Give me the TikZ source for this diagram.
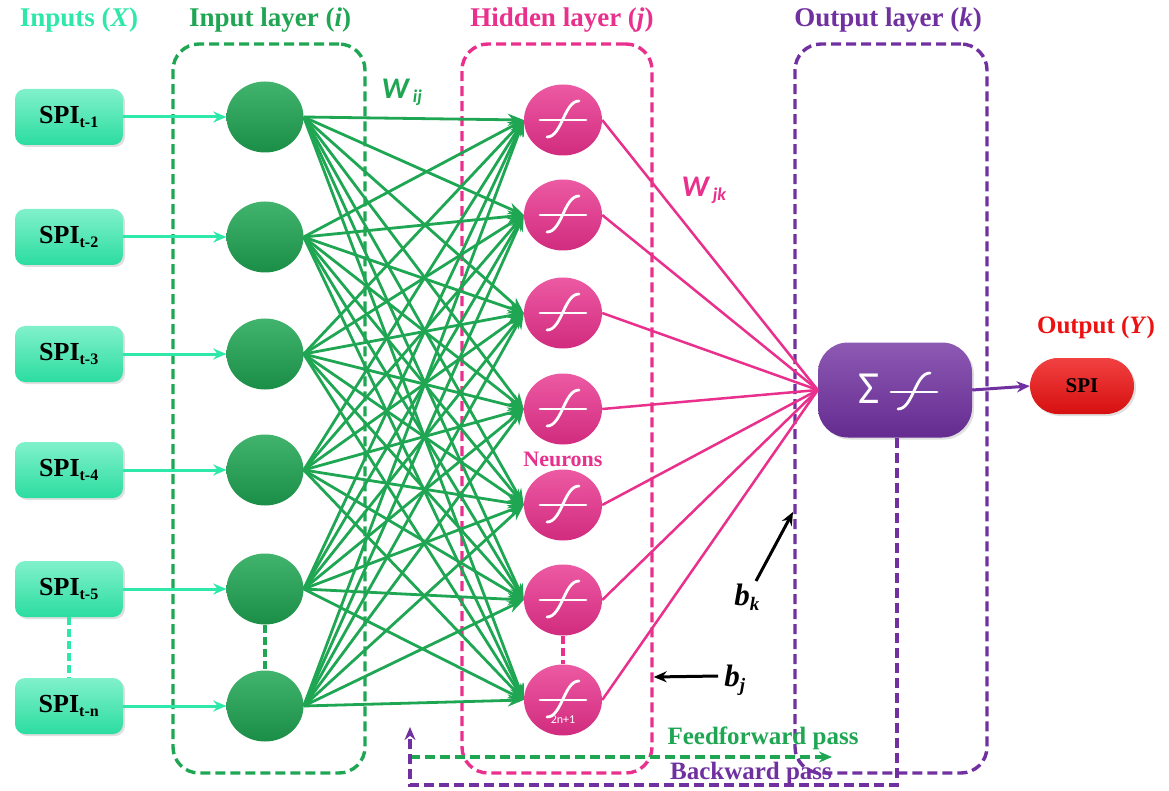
\documentclass[tikz,border=0pt]{standalone}
\usepackage{fontspec}
\setmainfont{Liberation Serif}
\newfontfamily\calib{Carlito}
\usetikzlibrary{arrows.meta,shadows,shapes.geometric}

\definecolor{inGreen}{HTML}{2DE8A8}
\definecolor{layGreen}{HTML}{1FA653}
\definecolor{hidPink}{HTML}{E8308C}
\definecolor{outPurple}{HTML}{7030A0}
\definecolor{outRed}{HTML}{EE1111}

\tikzset{
  title/.style={font=\fontsize{27}{30}\selectfont\bfseries, inner sep=0},
  spibox/.style={rounded corners=10, minimum width=108, minimum height=56, inner sep=0,
    top color=inGreen!60!white, bottom color=inGreen!95!black,
    drop shadow={opacity=0.25, shadow xshift=2pt, shadow yshift=-2pt},
    font=\fontsize{26}{28}\selectfont\bfseries},
  inneuron/.style={ellipse, minimum width=77, minimum height=71, inner sep=0,
    top color=layGreen!85!white, bottom color=layGreen!85!black},
  hidneuron/.style={ellipse, minimum width=78, minimum height=71, inner sep=0,
    top color=hidPink!80!white, bottom color=hidPink!90!black},
  frame/.style={rounded corners=26, line width=3.4, dash pattern=on 10pt off 5pt},
  inarrow/.style={draw=inGreen, line width=3, -{Stealth[length=13pt,width=11pt]}},
  wline/.style={draw=layGreen, line width=2.8, -{Stealth[length=16pt,width=12pt]}},
  pline/.style={draw=hidPink, line width=2.5},
  vdots/.style={line width=3.6, dash pattern=on 8pt off 4pt},
  sig/.pic={
    \draw[white, line width=2.8, line cap=round] (-23,0) -- (23,0);
    \draw[white, line width=2.8, line cap=round] (-16,17) .. controls (-1,17) and (1,-19) .. (16,-19);
  },
  lab/.style={inner sep=0},
  pass/.style={line width=3.4, dash pattern=on 10pt off 5pt, -{Stealth[length=13pt,width=11pt]}},
}

\begin{document}
\begin{tikzpicture}[x=1pt, y=-1pt]
\useasboundingbox[fill=white] (0,0) rectangle (1169,791);

% layer frames
\node[frame, draw=layGreen, minimum width=192, minimum height=729] (inframe) at (269,408.5) {};
\node[frame, draw=hidPink, minimum width=190, minimum height=729] (hidframe) at (557,408.5) {};
\node[frame, draw=outPurple, minimum width=192, minimum height=729] (outframe) at (891,408.5) {};

% titles
\node[title, text=inGreen] (tin) at (79,20) {Inputs (\textit{X})};
\node[title, text=layGreen] (tinl) at (270,20) {Input layer (\textit{i})};
\node[title, text=hidPink] (thid) at (562,20) {Hidden layer (\textit{j})};
\node[title, text=outPurple] (tout) at (888,20) {Output layer (\textit{k})};
\node[title, text=outRed, font=\fontsize{25}{27}\selectfont\bfseries] (ty) at (1096,327) {Output (\textit{Y})};

% inputs and input neurons
\foreach \i/\y/\s in {1/117/1, 2/237/2, 3/354/3, 4/470/4, 5/589/5, 6/706/n} {
  \node[spibox] (spi\i) at (69,\y) {SPI\textsubscript{\fontsize{16}{17}\selectfont t-\s}};
  \node[inneuron] (in\i) at (265,\y) {};
  \draw[inarrow] (spi\i.east) -- (in\i.west);
}
\draw[vdots, draw=inGreen] (spi5.south) -- (spi6.north);
\draw[vdots, draw=layGreen] (in5.south) -- (in6.north);

% hidden neurons
\foreach \j/\y in {1/120, 2/215, 3/313, 4/409, 5/505, 6/600, 7/700} {
  \node[hidneuron] (hid\j) at (563,\y) {};
}
\draw[vdots, draw=hidPink] (hid6.south) -- (hid7.north);

% input -> hidden weights
\foreach \i in {1,...,6} {
  \foreach \j in {1,...,7} {
    \draw[wline] (in\i.east) -- (hid\j.west);
  }
}

% output neuron
\node[rounded corners=30, minimum width=154, minimum height=95, inner sep=0,
  top color=outPurple!80!white, bottom color=outPurple!90!black,
  drop shadow={opacity=0.25, shadow xshift=2pt, shadow yshift=-2pt}] (out) at (895,390) {};
\node[lab, text=white, font=\calib\fontsize{46}{48}\selectfont] (sigma) at (869,389) {Σ};

% hidden -> output weights
\foreach \j in {1,...,7} {
  \draw[pline] (hid\j.east) -- (out.west);
}

% sigmoid marks
\foreach \j in {1,...,7} { \pic at (hid\j) {sig}; }
\pic at (914,392) {sig};
\node[lab, text=white, font=\calib\fontsize{12}{13}\selectfont] (nn) at (563,720) {2n+1};

% output value
\node[rounded corners=28, minimum width=104, minimum height=56, inner sep=0,
  top color=outRed!80!white, bottom color=outRed!90!black,
  drop shadow={opacity=0.25, shadow xshift=2pt, shadow yshift=-2pt},
  font=\fontsize{21}{22}\selectfont\bfseries] (spiy) at (1082,386) {SPI};
\draw[draw=outPurple, line width=3, -{Stealth[length=13pt,width=11pt]}] (out.east) -- (spiy.west);

% labels
\node[lab, text=layGreen, font=\calib\fontsize{30}{32}\selectfont\bfseries\itshape] (wij) at (402,92)
  {W\textsubscript{\fontsize{18}{19}\selectfont\ ij}};
\node[lab, text=hidPink, font=\calib\fontsize{30}{32}\selectfont\bfseries\itshape] (wjk) at (704,190)
  {W\textsubscript{\fontsize{18}{19}\selectfont\ jk}};
\node[lab, text=hidPink, font=\fontsize{22}{23}\selectfont\bfseries] (neur) at (563,459) {Neurons};

% biases
\node[lab, font=\fontsize{31}{33}\selectfont\bfseries\itshape] (bk) at (747,597)
  {b\textsubscript{\fontsize{19}{20}\selectfont k}};
\coordinate (bkend) at (793,512);
\draw[line width=3, -{Stealth[length=13pt,width=11pt]}] (756,581) -- (bkend);
\node[lab, font=\fontsize{31}{33}\selectfont\bfseries\itshape] (bj) at (735,680)
  {b\textsubscript{\fontsize{19}{20}\selectfont j}};
\draw[line width=3, -{Stealth[length=13pt,width=11pt]}] (bj.west) ++(-6,-4) -- (hidframe.east |- 0,677);

% training passes
\coordinate (ffa) at (410,757);
\coordinate (ffb) at (832,757);
\draw[pass, draw=layGreen] (ffa) -- (ffb);
\node[lab, text=layGreen, font=\fontsize{25}{27}\selectfont\bfseries] (fft) at (763,738) {Feedforward pass};

\coordinate (bpa) at (897,785);
\coordinate (bpb) at (410,785);
\coordinate (bpc) at (410,727);
\draw[pass, draw=outPurple] (out.south -| bpa) -- (bpa) -- (bpb) -- (bpc);
\node[lab, text=outPurple, font=\fontsize{25}{27}\selectfont\bfseries] (bpt) at (751,773) {Backward pass};
\end{tikzpicture}
\end{document}
